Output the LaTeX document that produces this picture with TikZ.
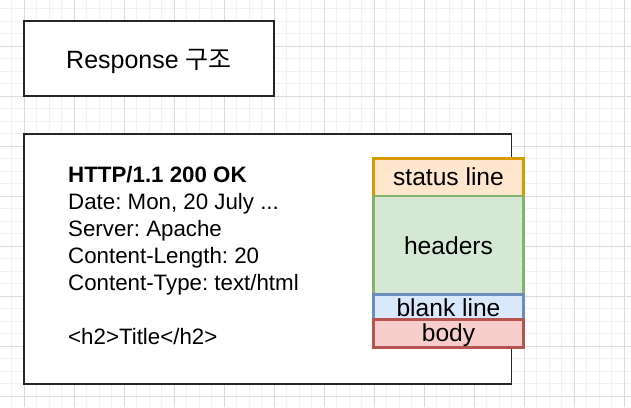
\documentclass[tikz,border=0pt]{standalone}
\usepackage{fontspec}
\setmainfont{Liberation Sans}
\newfontfamily\krfont{Noto Sans CJK KR}
\frenchspacing
\definecolor{gridminor}{HTML}{F1F1F1}
\definecolor{gridmajor}{HTML}{DCDCDC}
\definecolor{orfill}{HTML}{FFE6CC}\definecolor{ordraw}{HTML}{D79B00}
\definecolor{grfill}{HTML}{D5E8D4}\definecolor{grdraw}{HTML}{82B366}
\definecolor{blfill}{HTML}{DAE8FC}\definecolor{bldraw}{HTML}{6C8EBF}
\definecolor{rdfill}{HTML}{F8CECC}\definecolor{rddraw}{HTML}{B85450}
\tikzset{
  plainbox/.style={draw=black!85, line width=1.3pt, fill=white, inner sep=0pt},
  partbox/.style={line width=2.6pt, inner sep=0pt, minimum width=150pt, font=\fontsize{24.6}{29}\selectfont, text height=22.1pt, text depth=5.4pt},
  bodytext/.style={anchor=base west, inner sep=0pt, font=\fontsize{22.3}{27}\selectfont},
}
\begin{document}
\begin{tikzpicture}[x=1pt,y=-1pt]
\useasboundingbox (0,0) rectangle (631,407);
\fill[white] (0,0) rectangle (631,407);
% grid
\foreach \i in {-2,...,50} {
  \draw[gridminor, line width=1pt] ({24+12.5*\i},0) -- ({24+12.5*\i},407);
  \draw[gridminor, line width=1pt] (0,{-4+12.5*\i}) -- (631,{-4+12.5*\i});
}
\foreach \i in {-1,...,12} {
  \draw[gridmajor, line width=1pt] ({24+50*\i},0) -- ({24+50*\i},407);
  \draw[gridmajor, line width=1pt] (0,{-4+50*\i}) -- (631,{-4+50*\i});
}
% title box
\node[plainbox, minimum width=250pt, minimum height=75pt, font=\fontsize{25}{30}\selectfont, text height=24pt, text depth=5pt] (title) at (149,58.5) {Response {\krfont 구조}};
% main box
\node[plainbox, minimum width=487.5pt, minimum height=250pt] (main) at (267.75,259) {};
% text lines
\node[bodytext] (l1) at (68,182) {\bfseries HTTP/1.1 200 OK};
\node[bodytext] (l2) at (68,209) {Date: Mon, 20 July ...};
\node[bodytext] (l3) at (68,236) {Server: Apache};
\node[bodytext] (l4) at (68,263) {Content-Length: 20};
\node[bodytext] (l5) at (68,290) {Content-Type: text/html};
\node[bodytext] (l6) at (68,344) {<h2>Title</h2>};
% parts
\node[partbox, draw=ordraw, fill=orfill, minimum height=37.5pt] (status) at (448.5,177.25) {status line};
\node[partbox, draw=grdraw, fill=grfill, minimum height=100pt] (headers) at (448.5,246) {headers};
\node[partbox, draw=bldraw, fill=blfill, minimum height=25pt] (blank) at (448.5,308.5) {blank line};
\node[partbox, draw=rddraw, fill=rdfill, minimum height=25pt] (body) at (448.5,333.5) {body};
\end{tikzpicture}
\end{document}
